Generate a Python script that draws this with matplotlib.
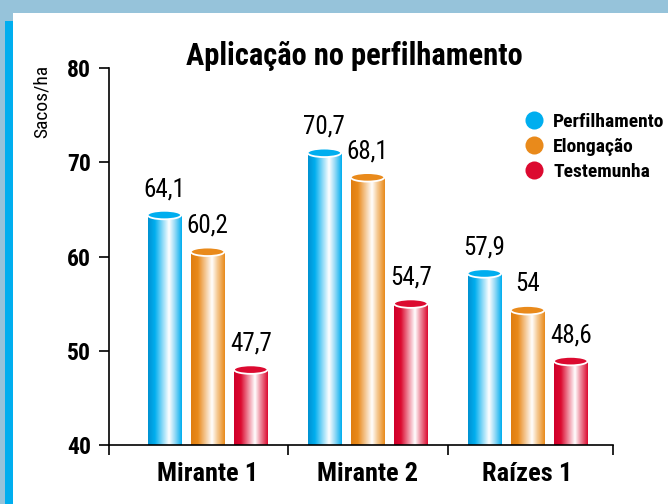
import matplotlib.pyplot as plt
import numpy as np
from matplotlib.colors import LinearSegmentedColormap
from matplotlib.patches import Ellipse, Rectangle
from matplotlib.lines import Line2D

categories = ['Mirante 1', 'Mirante 2', 'Raízes 1']
series = ['Perfilhamento', 'Elongação', 'Testemunha']
perfilhamento = [64.1, 70.7, 57.9]
elongacao = [60.2, 68.1, 54.0]
testemunha = [47.7, 54.7, 48.6]
labels = [['64,1', '70,7', '57,9'], ['60,2', '68,1', '54'], ['47,7', '54,7', '48,6']]
yticks = [40, 50, 60, 70, 80]

colors = ['#00AEEF', '#E98A1B', '#DC0A30']
darks = ['#0092D2', '#E07E10', '#D0002A']
lights = ['#9FDDF7', '#F5C992', '#EE8FA0']

plt.rcParams['font.family'] = ['Roboto Condensed', 'DejaVu Sans']

fig = plt.figure(figsize=(6.68, 5.04), dpi=100, facecolor='#96C3DA')
# white panel and blue strip
fig.patches.append(Rectangle((13 / 668, 0), 1, 1 - 13 / 504, transform=fig.transFigure,
                             facecolor='white', edgecolor='none', zorder=-2))
fig.patches.append(Rectangle((5 / 668, 0), 8 / 668, 1 - 21 / 504, transform=fig.transFigure,
                             facecolor='#00AEEF', edgecolor='none', zorder=-1))

ax = fig.add_axes([109 / 668, 1 - 445 / 504, 504 / 668, 377 / 504])
ax.set_facecolor('none')

x = np.arange(len(categories))
width = 0.21
offset = 0.27
cap_h = 0.9
grad = np.linspace(0, 1, 200).reshape(1, -1)

for i, vals in enumerate([perfilhamento, elongacao, testemunha]):
    cmap = LinearSegmentedColormap.from_list(
        'c%d' % i, [(0, darks[i]), (0.2, colors[i]), (0.62, 'white'), (0.78, lights[i]), (1, colors[i])])
    for j, v in enumerate(vals):
        xc = x[j] + (i - 1) * offset
        top = v + 0.3
        ax.imshow(grad, cmap=cmap, extent=[xc - width / 2, xc + width / 2, 40, top],
                  aspect='auto', zorder=2, interpolation='bilinear')
        ax.add_patch(Ellipse((xc, top), width, cap_h, facecolor=colors[i],
                             edgecolor='white', linewidth=1.3, zorder=3))
        ax.annotate(labels[i][j], (xc, v), xytext=(0, 12), textcoords='offset points',
                    ha='center', va='bottom', fontsize=18)

ax.set_xlim(-0.616, 2.534)
ax.set_ylim(40, 80)
ax.set_yticks(yticks)
ax.set_yticklabels([str(t) for t in yticks], fontsize=17, fontweight='bold')
ax.set_xticks(x)
ax.set_xticklabels(categories, fontsize=19, fontweight='bold')
ax.set_xticks([-0.616, 0.5, 1.5, 2.534], minor=True)
ax.tick_params(axis='x', which='major', length=0, pad=12)
ax.tick_params(axis='x', which='minor', length=7, width=1.2, direction='out')
ax.tick_params(axis='y', length=7, width=1.2, direction='out', pad=6)
for s in ['top', 'right']:
    ax.spines[s].set_visible(False)
for s in ['left', 'bottom']:
    ax.spines[s].set_linewidth(1.2)

fig.text(0.531, 1 - 56 / 504, 'Aplicação no perfilhamento', ha='center', va='center',
         fontsize=22, fontweight='bold')
fig.text(42 / 668, 1 - 101 / 504, 'Sacos/ha', rotation=90, ha='center', va='center', fontsize=14)

handles = [Line2D([], [], marker='o', linestyle='none', markersize=13, markerfacecolor=c,
                  markeredgecolor='none') for c in colors]
ax.legend(handles, series, loc='upper left', bbox_to_anchor=(524 / 668, 1 - 113 / 504),
          bbox_transform=fig.transFigure, frameon=False, handlelength=1,
          handletextpad=0.5, labelspacing=0.35, borderpad=0, borderaxespad=0,
          prop={'family': ['Roboto Condensed', 'DejaVu Sans'], 'weight': 'bold', 'size': 14})

fig.savefig('out.png', dpi=100, facecolor=fig.get_facecolor())
